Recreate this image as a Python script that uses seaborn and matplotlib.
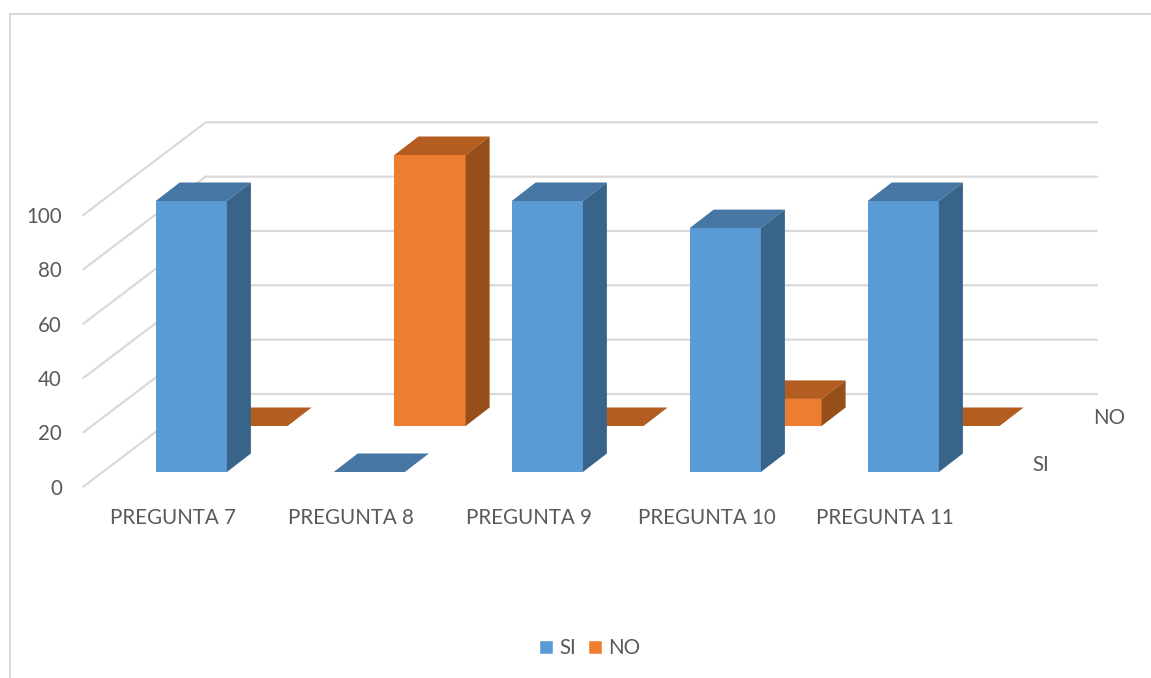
import matplotlib
matplotlib.use("Agg")
import matplotlib.pyplot as plt
import pandas as pd
import seaborn as sns
from matplotlib.lines import Line2D
from matplotlib.patches import Patch, Polygon

# Survey results per question, in percent
questions = ["PREGUNTA 7", "PREGUNTA 8", "PREGUNTA 9", "PREGUNTA 10", "PREGUNTA 11"]
si_values = [100, 0, 100, 90, 100]
no_values = [0, 100, 0, 10, 0]
value_ticks = [0, 20, 40, 60, 80, 100]

FIG_W, FIG_H = 1151, 678
INK = "#595959"
GRID = "#D9D9D9"
FONT_PT = 14.8

SI_SHADES = {"front": "#5B9BD5", "top": "#4676A3", "side": "#396489"}
NO_SHADES = {"front": "#ED7D31", "top": "#B35D21", "side": "#964F1B"}

# Oblique depth of one bar, and of the whole floor, in pixels
BAR_DX, BAR_DY = 24.0, 18.5
FLOOR_DX, FLOOR_DY = 122.4, 92.7
CAT_PX = 178.0

sns.set_theme(style="white")
plt.rcParams["font.family"] = ["Lato", "DejaVu Sans"]

fig = plt.figure(figsize=(FIG_W / 100, FIG_H / 100), dpi=100, facecolor="white")


def axes_at(left, right, top, bottom, z):
    """Transparent axes placed by its pixel box, measured from the top-left corner."""
    ax = fig.add_axes(
        [left / FIG_W, 1 - bottom / FIG_H, (right - left) / FIG_W, (bottom - top) / FIG_H],
        zorder=z,
    )
    ax.patch.set_alpha(0)
    return ax


def draw_row(ax, values, shades):
    """Front faces through seaborn, then the side and top faces derived from each bar."""
    frame = pd.DataFrame({"pregunta": questions, "valor": values})
    sns.barplot(data=frame, x="pregunta", y="valor", ax=ax, width=0.4,
                color=shades["front"], saturation=1, linewidth=0)
    ax.set_xlim(-0.5, len(questions) - 0.5)
    ax.set_ylim(0, 100)
    ax.axis("off")
    px_per_value = ax.get_window_extent().height / 100
    dx = BAR_DX / CAT_PX
    dy = BAR_DY / px_per_value
    for bar in ax.containers[0]:
        x0, x1 = bar.get_x(), bar.get_x() + bar.get_width()
        h = bar.get_height()
        ax.add_patch(Polygon([(x0, h), (x1, h), (x1 + dx, h + dy), (x0 + dx, h + dy)],
                             closed=True, fc=shades["top"], ec="none", clip_on=False))
        if h > 0:
            ax.add_patch(Polygon([(x1, 0), (x1, h), (x1 + dx, h + dy), (x1 + dx, dy)],
                                 closed=True, fc=shades["side"], ec="none", clip_on=False))


# Outer chart frame: only the top and left edges show
fig.add_artist(Line2D([10 / FIG_W, 1], [1 - 14 / FIG_H] * 2, color=GRID, lw=1.5))
fig.add_artist(Line2D([10 / FIG_W] * 2, [1 - 14 / FIG_H, 0], color=GRID, lw=1.5))

# Front edge of the floor: carries the value and question axes
ax_front = axes_at(84, 974, 215, 486.7, 1)
ax_front.set_xlim(-0.5, len(questions) - 0.5)
ax_front.set_ylim(0, 100)
ax_front.set_xticks(range(len(questions)), questions)
ax_front.set_yticks(value_ticks, [str(v) for v in value_ticks])
ax_front.tick_params(axis="x", length=0, pad=15.5, labelsize=FONT_PT, labelcolor=INK)
ax_front.tick_params(axis="y", length=0, pad=16, labelsize=FONT_PT, labelcolor=INK)
for spine in ax_front.spines.values():
    spine.set_visible(False)

# Back wall gridlines and their diagonals across the floor side
ax_wall = axes_at(205.7, 1097, 122.3, 394, 2)
ax_wall.set_xlim(0, 1)
ax_wall.set_ylim(0, 100)
ax_wall.axis("off")
wall_dx = FLOOR_DX / (1097 - 205.7)
wall_dy = FLOOR_DY / ((394 - 122.3) / 100)
for v in value_ticks:
    ax_wall.plot([-wall_dx, 0, 1], [v - wall_dy, v, v], color=GRID, lw=1.6,
                 clip_on=False, solid_joinstyle="miter")

# NO row sits behind the SI row
ax_no = axes_at(163, 1053, 155, 426, 3)
draw_row(ax_no, no_values, NO_SHADES)
ax_si = axes_at(102.3, 992.3, 201, 472, 4)
draw_row(ax_si, si_values, SI_SHADES)

# Depth axis labels
fig.text(1041 / FIG_W, 1 - 465 / FIG_H, "SI", color=INK, fontsize=FONT_PT, ha="center", va="center")
fig.text(1109 / FIG_W, 1 - 418.5 / FIG_H, "NO", color=INK, fontsize=FONT_PT, ha="center", va="center")

fig.legend(
    handles=[Patch(fc=SI_SHADES["front"], label="SI"), Patch(fc=NO_SHADES["front"], label="NO")],
    loc="center", bbox_to_anchor=(590 / FIG_W, 1 - 648 / FIG_H), ncol=2, frameon=False,
    fontsize=FONT_PT, labelcolor=INK, handlelength=0.68, handleheight=0.68,
    handletextpad=0.3, columnspacing=0.6, borderpad=0, borderaxespad=0,
)

fig.savefig("out.png", dpi=100, facecolor="white")
